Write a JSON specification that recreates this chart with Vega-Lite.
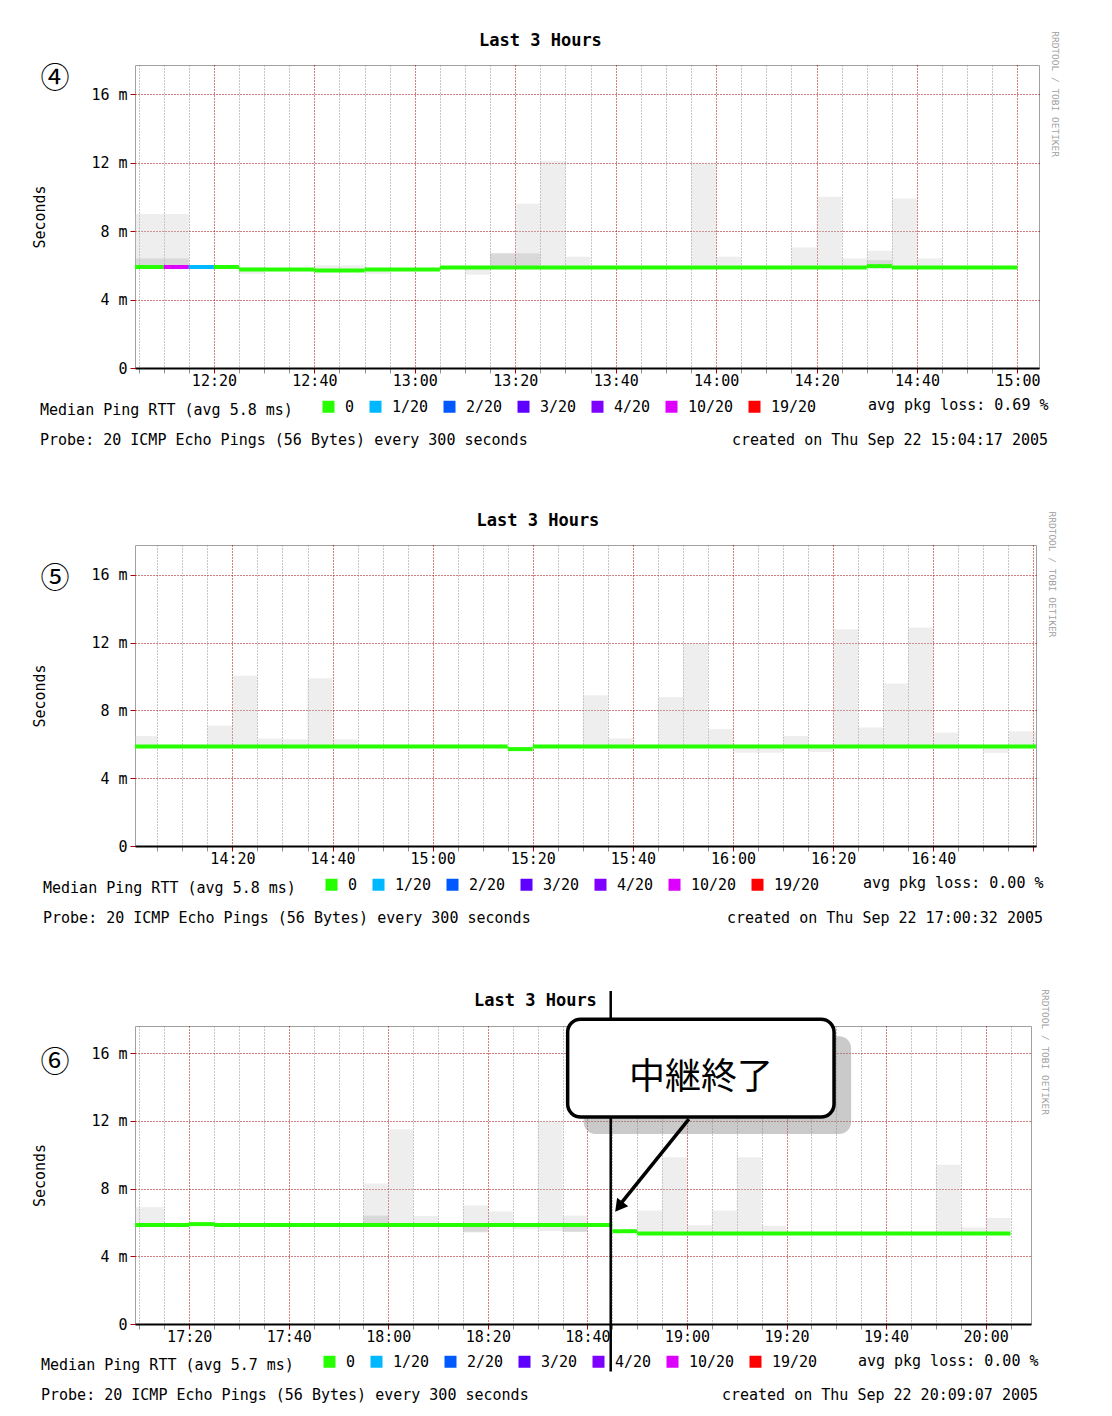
{
  "$schema": "https://vega.github.io/schema/vega-lite/v6.json",
  "padding": {"left": 32, "top": 31, "right": 0, "bottom": 0},
  "background": "white",
  "config": {
    "view": {"stroke": "#a0a0a0"},
    "font": "DejaVu Sans Mono",
    "axis": {"labelFont": "DejaVu Sans Mono", "titleFont": "DejaVu Sans Mono", "labelOverlap": false},
    "legend": {"labelFont": "DejaVu Sans Mono", "titleFont": "DejaVu Sans Mono"},
    "title": {"font": "DejaVu Sans Mono"}
  },
  "datasets": {
    "smoke1": [
      {"t0": "2005-09-22T12:04:17", "t1": "2005-09-22T12:10:00", "lo": 5.8, "hi": 9.0},
      {"t0": "2005-09-22T12:10:00", "t1": "2005-09-22T12:15:00", "lo": 5.8, "hi": 9.0},
      {"t0": "2005-09-22T12:25:00", "t1": "2005-09-22T12:30:00", "lo": 5.5, "hi": 5.9},
      {"t0": "2005-09-22T12:40:00", "t1": "2005-09-22T12:50:00", "lo": 5.65, "hi": 6.0},
      {"t0": "2005-09-22T12:50:00", "t1": "2005-09-22T12:55:00", "lo": 5.5, "hi": 5.8},
      {"t0": "2005-09-22T13:10:00", "t1": "2005-09-22T13:15:00", "lo": 5.45, "hi": 5.85},
      {"t0": "2005-09-22T13:15:00", "t1": "2005-09-22T13:20:00", "lo": 5.8, "hi": 6.7},
      {"t0": "2005-09-22T13:20:00", "t1": "2005-09-22T13:25:00", "lo": 5.8, "hi": 9.6},
      {"t0": "2005-09-22T13:25:00", "t1": "2005-09-22T13:30:00", "lo": 5.75, "hi": 12.1},
      {"t0": "2005-09-22T13:30:00", "t1": "2005-09-22T13:35:00", "lo": 5.8, "hi": 6.5},
      {"t0": "2005-09-22T13:55:00", "t1": "2005-09-22T14:00:00", "lo": 5.8, "hi": 12.0},
      {"t0": "2005-09-22T14:00:00", "t1": "2005-09-22T14:05:00", "lo": 5.8, "hi": 6.5},
      {"t0": "2005-09-22T14:15:00", "t1": "2005-09-22T14:20:00", "lo": 5.8, "hi": 7.05},
      {"t0": "2005-09-22T14:20:00", "t1": "2005-09-22T14:25:00", "lo": 5.8, "hi": 10.0},
      {"t0": "2005-09-22T14:25:00", "t1": "2005-09-22T14:30:00", "lo": 5.8, "hi": 6.4},
      {"t0": "2005-09-22T14:30:00", "t1": "2005-09-22T14:35:00", "lo": 5.8, "hi": 6.85},
      {"t0": "2005-09-22T14:35:00", "t1": "2005-09-22T14:40:00", "lo": 5.8, "hi": 9.9},
      {"t0": "2005-09-22T14:40:00", "t1": "2005-09-22T14:45:00", "lo": 5.8, "hi": 6.4}
    ],
    "core1": [
      {"t0": "2005-09-22T12:04:17", "t1": "2005-09-22T12:15:00", "lo": 5.85, "hi": 6.4},
      {"t0": "2005-09-22T13:15:00", "t1": "2005-09-22T13:25:00", "lo": 5.85, "hi": 6.7},
      {"t0": "2005-09-22T14:30:00", "t1": "2005-09-22T14:35:00", "lo": 5.85, "hi": 6.3}
    ],
    "med1": [
      {"t0": "2005-09-22T12:04:17", "t1": "2005-09-22T12:10:00", "ms": 5.9, "loss": "0"},
      {"t0": "2005-09-22T12:10:00", "t1": "2005-09-22T12:15:00", "ms": 5.9, "loss": "10/20"},
      {"t0": "2005-09-22T12:15:00", "t1": "2005-09-22T12:20:00", "ms": 5.9, "loss": "1/20"},
      {"t0": "2005-09-22T12:20:00", "t1": "2005-09-22T12:25:00", "ms": 5.9, "loss": "0"},
      {"t0": "2005-09-22T12:25:00", "t1": "2005-09-22T12:40:00", "ms": 5.75, "loss": "0"},
      {"t0": "2005-09-22T12:40:00", "t1": "2005-09-22T12:50:00", "ms": 5.7, "loss": "0"},
      {"t0": "2005-09-22T12:50:00", "t1": "2005-09-22T13:05:00", "ms": 5.75, "loss": "0"},
      {"t0": "2005-09-22T13:05:00", "t1": "2005-09-22T14:30:00", "ms": 5.87, "loss": "0"},
      {"t0": "2005-09-22T14:30:00", "t1": "2005-09-22T14:35:00", "ms": 5.95, "loss": "0"},
      {"t0": "2005-09-22T14:35:00", "t1": "2005-09-22T15:00:00", "ms": 5.87, "loss": "0"}
    ],
    "smoke2": [
      {"t0": "2005-09-22T14:00:32", "t1": "2005-09-22T14:05:00", "lo": 5.85, "hi": 6.5},
      {"t0": "2005-09-22T14:15:00", "t1": "2005-09-22T14:20:00", "lo": 5.85, "hi": 7.1},
      {"t0": "2005-09-22T14:20:00", "t1": "2005-09-22T14:25:00", "lo": 5.85, "hi": 10.05},
      {"t0": "2005-09-22T14:25:00", "t1": "2005-09-22T14:30:00", "lo": 5.85, "hi": 6.34},
      {"t0": "2005-09-22T14:30:00", "t1": "2005-09-22T14:35:00", "lo": 5.75, "hi": 6.3},
      {"t0": "2005-09-22T14:35:00", "t1": "2005-09-22T14:40:00", "lo": 5.85, "hi": 9.9},
      {"t0": "2005-09-22T14:40:00", "t1": "2005-09-22T14:45:00", "lo": 5.85, "hi": 6.3},
      {"t0": "2005-09-22T15:30:00", "t1": "2005-09-22T15:35:00", "lo": 5.75, "hi": 8.9},
      {"t0": "2005-09-22T15:35:00", "t1": "2005-09-22T15:40:00", "lo": 5.85, "hi": 6.35},
      {"t0": "2005-09-22T15:45:00", "t1": "2005-09-22T15:50:00", "lo": 5.8, "hi": 8.8},
      {"t0": "2005-09-22T15:50:00", "t1": "2005-09-22T15:55:00", "lo": 5.8, "hi": 11.95},
      {"t0": "2005-09-22T15:55:00", "t1": "2005-09-22T16:00:00", "lo": 5.85, "hi": 6.9},
      {"t0": "2005-09-22T16:00:00", "t1": "2005-09-22T16:10:00", "lo": 5.5, "hi": 5.9},
      {"t0": "2005-09-22T16:10:00", "t1": "2005-09-22T16:15:00", "lo": 5.85, "hi": 6.5},
      {"t0": "2005-09-22T16:15:00", "t1": "2005-09-22T16:20:00", "lo": 5.55, "hi": 5.9},
      {"t0": "2005-09-22T16:20:00", "t1": "2005-09-22T16:25:00", "lo": 5.85, "hi": 12.8},
      {"t0": "2005-09-22T16:25:00", "t1": "2005-09-22T16:30:00", "lo": 5.85, "hi": 7.0},
      {"t0": "2005-09-22T16:30:00", "t1": "2005-09-22T16:35:00", "lo": 5.8, "hi": 9.6},
      {"t0": "2005-09-22T16:35:00", "t1": "2005-09-22T16:40:00", "lo": 5.8, "hi": 12.9},
      {"t0": "2005-09-22T16:40:00", "t1": "2005-09-22T16:45:00", "lo": 5.8, "hi": 6.7},
      {"t0": "2005-09-22T16:50:00", "t1": "2005-09-22T16:55:00", "lo": 5.5, "hi": 5.9},
      {"t0": "2005-09-22T16:55:00", "t1": "2005-09-22T17:00:32", "lo": 5.85, "hi": 6.77}
    ],
    "med2": [
      {"t0": "2005-09-22T14:00:32", "t1": "2005-09-22T15:15:00", "ms": 5.87, "loss": "0"},
      {"t0": "2005-09-22T15:15:00", "t1": "2005-09-22T15:20:00", "ms": 5.72, "loss": "0"},
      {"t0": "2005-09-22T15:20:00", "t1": "2005-09-22T17:00:32", "ms": 5.87, "loss": "0"}
    ],
    "smoke3": [
      {"t0": "2005-09-22T17:09:07", "t1": "2005-09-22T17:15:00", "lo": 5.85, "hi": 6.9},
      {"t0": "2005-09-22T17:55:00", "t1": "2005-09-22T18:00:00", "lo": 5.8, "hi": 8.3},
      {"t0": "2005-09-22T18:00:00", "t1": "2005-09-22T18:05:00", "lo": 5.75, "hi": 11.5},
      {"t0": "2005-09-22T18:05:00", "t1": "2005-09-22T18:10:00", "lo": 5.85, "hi": 6.38},
      {"t0": "2005-09-22T18:15:00", "t1": "2005-09-22T18:20:00", "lo": 5.4, "hi": 7.0},
      {"t0": "2005-09-22T18:20:00", "t1": "2005-09-22T18:25:00", "lo": 5.8, "hi": 6.65},
      {"t0": "2005-09-22T18:25:00", "t1": "2005-09-22T18:30:00", "lo": 5.6, "hi": 5.9},
      {"t0": "2005-09-22T18:30:00", "t1": "2005-09-22T18:35:00", "lo": 5.5, "hi": 12.0},
      {"t0": "2005-09-22T18:35:00", "t1": "2005-09-22T18:40:00", "lo": 5.44, "hi": 6.4},
      {"t0": "2005-09-22T18:50:00", "t1": "2005-09-22T18:55:00", "lo": 5.3, "hi": 6.7},
      {"t0": "2005-09-22T18:55:00", "t1": "2005-09-22T19:00:00", "lo": 5.3, "hi": 9.85},
      {"t0": "2005-09-22T19:00:00", "t1": "2005-09-22T19:05:00", "lo": 5.3, "hi": 5.83},
      {"t0": "2005-09-22T19:05:00", "t1": "2005-09-22T19:10:00", "lo": 5.3, "hi": 6.7},
      {"t0": "2005-09-22T19:10:00", "t1": "2005-09-22T19:15:00", "lo": 5.3, "hi": 9.85},
      {"t0": "2005-09-22T19:15:00", "t1": "2005-09-22T19:20:00", "lo": 5.3, "hi": 5.8},
      {"t0": "2005-09-22T19:50:00", "t1": "2005-09-22T19:55:00", "lo": 5.3, "hi": 9.4},
      {"t0": "2005-09-22T19:55:00", "t1": "2005-09-22T20:00:00", "lo": 5.3, "hi": 5.7},
      {"t0": "2005-09-22T20:00:00", "t1": "2005-09-22T20:05:00", "lo": 5.3, "hi": 6.26}
    ],
    "core3": [
      {"t0": "2005-09-22T17:55:00", "t1": "2005-09-22T18:00:00", "lo": 5.85, "hi": 6.4},
      {"t0": "2005-09-22T18:15:00", "t1": "2005-09-22T18:20:00", "lo": 5.45, "hi": 5.85},
      {"t0": "2005-09-22T18:35:00", "t1": "2005-09-22T18:40:00", "lo": 5.45, "hi": 5.85}
    ],
    "med3": [
      {"t0": "2005-09-22T17:09:07", "t1": "2005-09-22T17:20:00", "ms": 5.85, "loss": "0"},
      {"t0": "2005-09-22T17:20:00", "t1": "2005-09-22T17:25:00", "ms": 5.9, "loss": "0"},
      {"t0": "2005-09-22T17:25:00", "t1": "2005-09-22T18:45:00", "ms": 5.85, "loss": "0"},
      {"t0": "2005-09-22T18:45:00", "t1": "2005-09-22T18:50:00", "ms": 5.48, "loss": "0"},
      {"t0": "2005-09-22T18:50:00", "t1": "2005-09-22T20:05:00", "ms": 5.34, "loss": "0"}
    ]
  },
  "spacing": 63,
  "resolve": {"scale": {"x": "independent", "y": "independent"}, "legend": {"color": "independent"}},
  "vconcat": [
    {
      "spacing": 10,
      "title": {"text": "RRDTOOL / TOBI OETIKER", "orient": "right", "anchor": "start", "frame": "bounds", "fontSize": 9.5, "fontWeight": "normal", "color": "#a0a0a0", "offset": 2},
      "resolve": {"scale": {"x": "independent", "y": "independent"}, "legend": {"color": "independent"}},
      "vconcat": [
        {
          "width": 904, "height": 303,
          "title": {"text": "Last 3 Hours", "fontSize": 17, "fontWeight": "bold", "color": "#000", "anchor": "middle", "frame": "bounds", "offset": 15},
          "layer": [
            {
              "data": {"name": "smoke1"},
              "mark": {"type": "rect", "color": "#c8c8c8", "opacity": 0.3},
              "encoding": {
                "x": {"field": "t0", "type": "temporal",
                  "scale": {"domain": [{"year": 2005, "month": 9, "date": 22, "hours": 12, "minutes": 4, "seconds": 17}, {"year": 2005, "month": 9, "date": 22, "hours": 15, "minutes": 4, "seconds": 17}]},
                  "axis": {"orient": "bottom", "tickCount": 36, "labelExpr": "minutes(datum.value) % 20 == 0 ? timeFormat(datum.value, '%H:%M') : ''", "labelFlush": false, "labelOverlap": false, "labelPadding": 0, "labelFontSize": 15, "labelColor": "#000", "tickSize": 5,
                    "tickColor": {"condition": {"test": "minutes(datum.value) % 20 == 0", "value": "#b00000"}, "value": "#909090"},
                    "domainColor": "#000", "domainWidth": 2, "grid": true,
                    "gridColor": {"condition": {"test": "minutes(datum.value) % 20 == 0", "value": "#a00000"}, "value": "#8c8c8c"},
                    "gridDash": [1, 2], "title": "avg pkg loss: 0.69 %", "titleFontSize": 15, "titleFontWeight": "normal", "titleColor": "#000", "titleAnchor": "end", "titleAlign": "right", "titleX": 913, "titlePadding": 9}},
                "x2": {"field": "t1"},
                "y": {"field": "lo", "type": "quantitative", "scale": {"domain": [0, 17.7], "nice": false},
                  "axis": {"orient": "left", "values": [0, 2, 4, 6, 8, 10, 12, 14, 16],
                    "labelExpr": "datum.value == 0 ? '0' : datum.value + ' m'",
                    "labelFontSize": 15, "labelPadding": 3, "labelColor": "#000", "labelOverlap": false, "labelFlush": false, "tickSize": 5, "tickColor": "#b00000",
                    "domain": false, "grid": true, "gridColor": "#a00000", "gridDash": [1, 2],
                    "title": "Seconds", "titleFontSize": 15, "titleFontWeight": "normal", "titleColor": "#000", "titlePadding": 43}},
                "y2": {"field": "hi"}
              }
            },
            {
              "data": {"name": "core1"},
              "mark": {"type": "rect", "color": "#a8a8a8", "opacity": 0.3},
              "encoding": {"x": {"field": "t0", "type": "temporal"}, "x2": {"field": "t1"}, "y": {"field": "lo", "type": "quantitative"}, "y2": {"field": "hi"}}
            },
            {
              "data": {"name": "med1"},
              "mark": {"type": "rule", "strokeWidth": 4},
              "encoding": {
                "x": {"field": "t0", "type": "temporal"},
                "x2": {"field": "t1"},
                "y": {"field": "ms", "type": "quantitative"},
                "color": {"field": "loss", "type": "nominal",
                  "scale": {"domain": ["0", "1/20", "2/20", "3/20", "4/20", "10/20", "19/20"], "range": ["#26ff00", "#00b8ff", "#0059ff", "#5e00ff", "#7e00ff", "#dd00ff", "#ff0000"]},
                  "legend": {"orient": "none", "legendX": -95, "legendY": 334, "direction": "horizontal", "title": "Median Ping RTT (avg 5.8 ms)", "titleOrient": "left", "titleLimit": 500, "titleFontSize": 15, "titleFontWeight": "normal", "titleColor": "#000", "titlePadding": 28, "labelFontSize": 15, "labelColor": "#000", "labelOffset": 9, "columnPadding": 5, "symbolType": "square", "symbolSize": 36, "symbolStrokeWidth": 6, "symbolOpacity": 1}}
              }
            },
            {
              "data": {"values": [{"label": "④"}]},
              "mark": {"type": "text", "font": "Noto Sans CJK JP", "fontSize": 29, "align": "center", "baseline": "middle", "dx": -80, "color": "#000"},
              "encoding": {
                "text": {"field": "label"},
                "x": {"datum": {"year": 2005, "month": 9, "date": 22, "hours": 12, "minutes": 4, "seconds": 17}, "type": "temporal"},
                "y": {"datum": 16.9, "type": "quantitative"}
              }
            }
          ]
        },
        {
          "width": 913, "height": 14,
          "view": {"stroke": null},
          "layer": [
            {
              "data": {"values": [{"side": "left", "text": "Probe: 20 ICMP Echo Pings (56 Bytes) every 300 seconds"}]},
              "mark": {"type": "text", "align": "left", "baseline": "middle", "dx": -95, "fontSize": 15, "color": "#000"},
              "encoding": {"x": {"field": "side", "type": "nominal", "scale": {"type": "point", "domain": ["left", "right"], "padding": 0}, "axis": null}, "text": {"field": "text"}}
            },
            {
              "data": {"values": [{"side": "right", "text": "created on Thu Sep 22 15:04:17 2005"}]},
              "mark": {"type": "text", "align": "right", "baseline": "middle", "fontSize": 15, "color": "#000"},
              "encoding": {"x": {"field": "side", "type": "nominal", "axis": null}, "text": {"field": "text"}}
            }
          ]
        }
      ]
    },
    {
      "spacing": 10,
      "title": {"text": "RRDTOOL / TOBI OETIKER", "orient": "right", "anchor": "start", "frame": "bounds", "fontSize": 9.5, "fontWeight": "normal", "color": "#a0a0a0", "offset": 4},
      "resolve": {"scale": {"x": "independent", "y": "independent"}, "legend": {"color": "independent"}},
      "vconcat": [
        {
          "width": 901, "height": 301,
          "title": {"text": "Last 3 Hours", "fontSize": 17, "fontWeight": "bold", "color": "#000", "anchor": "middle", "frame": "bounds", "offset": 15},
          "layer": [
            {
              "data": {"name": "smoke2"},
              "mark": {"type": "rect", "color": "#c8c8c8", "opacity": 0.3},
              "encoding": {
                "x": {"field": "t0", "type": "temporal",
                  "scale": {"domain": [{"year": 2005, "month": 9, "date": 22, "hours": 14, "minutes": 0, "seconds": 32}, {"year": 2005, "month": 9, "date": 22, "hours": 17, "minutes": 0, "seconds": 32}]},
                  "axis": {"orient": "bottom", "tickCount": 36, "labelExpr": "minutes(datum.value) % 20 == 0 && hours(datum.value) < 17 ? timeFormat(datum.value, '%H:%M') : ''", "labelFlush": false, "labelOverlap": false, "labelPadding": 0, "labelFontSize": 15, "labelColor": "#000", "tickSize": 5,
                    "tickColor": {"condition": {"test": "minutes(datum.value) % 20 == 0", "value": "#b00000"}, "value": "#909090"},
                    "domainColor": "#000", "domainWidth": 2, "grid": true,
                    "gridColor": {"condition": {"test": "minutes(datum.value) % 20 == 0", "value": "#a00000"}, "value": "#8c8c8c"},
                    "gridDash": [1, 2], "title": "avg pkg loss: 0.00 %", "titleFontSize": 15, "titleFontWeight": "normal", "titleColor": "#000", "titleAnchor": "end", "titleAlign": "right", "titleX": 908, "titlePadding": 9}},
                "x2": {"field": "t1"},
                "y": {"field": "lo", "type": "quantitative", "scale": {"domain": [0, 17.77], "nice": false},
                  "axis": {"orient": "left", "values": [0, 2, 4, 6, 8, 10, 12, 14, 16],
                    "labelExpr": "datum.value == 0 ? '0' : datum.value + ' m'",
                    "labelFontSize": 15, "labelPadding": 3, "labelColor": "#000", "labelOverlap": false, "labelFlush": false, "tickSize": 5, "tickColor": "#b00000",
                    "domain": false, "grid": true, "gridColor": "#a00000", "gridDash": [1, 2],
                    "title": "Seconds", "titleFontSize": 15, "titleFontWeight": "normal", "titleColor": "#000", "titlePadding": 43}},
                "y2": {"field": "hi"}
              }
            },
            {
              "data": {"name": "med2"},
              "mark": {"type": "rule", "strokeWidth": 4},
              "encoding": {
                "x": {"field": "t0", "type": "temporal"},
                "x2": {"field": "t1"},
                "y": {"field": "ms", "type": "quantitative"},
                "color": {"field": "loss", "type": "nominal",
                  "scale": {"domain": ["0", "1/20", "2/20", "3/20", "4/20", "10/20", "19/20"], "range": ["#26ff00", "#00b8ff", "#0059ff", "#5e00ff", "#7e00ff", "#dd00ff", "#ff0000"]},
                  "legend": {"orient": "none", "legendX": -92, "legendY": 332, "direction": "horizontal", "title": "Median Ping RTT (avg 5.8 ms)", "titleOrient": "left", "titleLimit": 500, "titleFontSize": 15, "titleFontWeight": "normal", "titleColor": "#000", "titlePadding": 28, "labelFontSize": 15, "labelColor": "#000", "labelOffset": 9, "columnPadding": 5, "symbolType": "square", "symbolSize": 36, "symbolStrokeWidth": 6, "symbolOpacity": 1}}
              }
            },
            {
              "data": {"values": [{"label": "⑤"}]},
              "mark": {"type": "text", "font": "Noto Sans CJK JP", "fontSize": 29, "align": "center", "baseline": "middle", "dx": -80, "color": "#000"},
              "encoding": {
                "text": {"field": "label"},
                "x": {"datum": {"year": 2005, "month": 9, "date": 22, "hours": 14, "minutes": 0, "seconds": 32}, "type": "temporal"},
                "y": {"datum": 15.75, "type": "quantitative"}
              }
            }
          ]
        },
        {
          "width": 908, "height": 14,
          "view": {"stroke": null},
          "layer": [
            {
              "data": {"values": [{"side": "left", "text": "Probe: 20 ICMP Echo Pings (56 Bytes) every 300 seconds"}]},
              "mark": {"type": "text", "align": "left", "baseline": "middle", "dx": -92, "fontSize": 15, "color": "#000"},
              "encoding": {"x": {"field": "side", "type": "nominal", "scale": {"type": "point", "domain": ["left", "right"], "padding": 0}, "axis": null}, "text": {"field": "text"}}
            },
            {
              "data": {"values": [{"side": "right", "text": "created on Thu Sep 22 17:00:32 2005"}]},
              "mark": {"type": "text", "align": "right", "baseline": "middle", "fontSize": 15, "color": "#000"},
              "encoding": {"x": {"field": "side", "type": "nominal", "axis": null}, "text": {"field": "text"}}
            }
          ]
        }
      ]
    },
    {
      "spacing": 10,
      "title": {"text": "RRDTOOL / TOBI OETIKER", "orient": "right", "anchor": "start", "frame": "bounds", "fontSize": 9.5, "fontWeight": "normal", "color": "#a0a0a0", "offset": 2},
      "resolve": {"scale": {"x": "independent", "y": "independent"}, "legend": {"color": "independent"}},
      "vconcat": [
        {
          "width": 896, "height": 298,
          "title": {"text": "Last 3 Hours", "fontSize": 17, "fontWeight": "bold", "color": "#000", "anchor": "middle", "frame": "bounds", "offset": -20},
          "layer": [
            {
              "data": {"name": "smoke3"},
              "mark": {"type": "rect", "color": "#c8c8c8", "opacity": 0.3},
              "encoding": {
                "x": {"field": "t0", "type": "temporal",
                  "scale": {"domain": [{"year": 2005, "month": 9, "date": 22, "hours": 17, "minutes": 9, "seconds": 7}, {"year": 2005, "month": 9, "date": 22, "hours": 20, "minutes": 9, "seconds": 7}]},
                  "axis": {"orient": "bottom", "tickCount": 36, "labelExpr": "minutes(datum.value) % 20 == 0 ? timeFormat(datum.value, '%H:%M') : ''", "labelFlush": false, "labelOverlap": false, "labelPadding": 0, "labelFontSize": 15, "labelColor": "#000", "tickSize": 5,
                    "tickColor": {"condition": {"test": "minutes(datum.value) % 20 == 0", "value": "#b00000"}, "value": "#909090"},
                    "domainColor": "#000", "domainWidth": 2, "grid": true,
                    "gridColor": {"condition": {"test": "minutes(datum.value) % 20 == 0", "value": "#a00000"}, "value": "#8c8c8c"},
                    "gridDash": [1, 2], "title": "avg pkg loss: 0.00 %", "titleFontSize": 15, "titleFontWeight": "normal", "titleColor": "#000", "titleAnchor": "end", "titleAlign": "right", "titleX": 903, "titlePadding": 9}},
                "x2": {"field": "t1"},
                "y": {"field": "lo", "type": "quantitative", "scale": {"domain": [0, 17.6], "nice": false},
                  "axis": {"orient": "left", "values": [0, 2, 4, 6, 8, 10, 12, 14, 16],
                    "labelExpr": "datum.value == 0 ? '0' : datum.value + ' m'",
                    "labelFontSize": 15, "labelPadding": 3, "labelColor": "#000", "labelOverlap": false, "labelFlush": false, "tickSize": 5, "tickColor": "#b00000",
                    "domain": false, "grid": true, "gridColor": "#a00000", "gridDash": [1, 2],
                    "title": "Seconds", "titleFontSize": 15, "titleFontWeight": "normal", "titleColor": "#000", "titlePadding": 43}},
                "y2": {"field": "hi"}
              }
            },
            {
              "data": {"name": "core3"},
              "mark": {"type": "rect", "color": "#a8a8a8", "opacity": 0.3},
              "encoding": {"x": {"field": "t0", "type": "temporal"}, "x2": {"field": "t1"}, "y": {"field": "lo", "type": "quantitative"}, "y2": {"field": "hi"}}
            },
            {
              "data": {"name": "med3"},
              "mark": {"type": "rule", "strokeWidth": 4},
              "encoding": {
                "x": {"field": "t0", "type": "temporal"},
                "x2": {"field": "t1"},
                "y": {"field": "ms", "type": "quantitative"},
                "color": {"field": "loss", "type": "nominal",
                  "scale": {"domain": ["0", "1/20", "2/20", "3/20", "4/20", "10/20", "19/20"], "range": ["#26ff00", "#00b8ff", "#0059ff", "#5e00ff", "#7e00ff", "#dd00ff", "#ff0000"]},
                  "legend": {"orient": "none", "legendX": -94, "legendY": 328, "direction": "horizontal", "title": "Median Ping RTT (avg 5.7 ms)", "titleOrient": "left", "titleLimit": 500, "titleFontSize": 15, "titleFontWeight": "normal", "titleColor": "#000", "titlePadding": 28, "labelFontSize": 15, "labelColor": "#000", "labelOffset": 9, "columnPadding": 5, "symbolType": "square", "symbolSize": 36, "symbolStrokeWidth": 6, "symbolOpacity": 1}}
              }
            },
            {
              "data": {"values": [{"label": "⑥"}]},
              "mark": {"type": "text", "font": "Noto Sans CJK JP", "fontSize": 29, "align": "center", "baseline": "middle", "dx": -80, "color": "#000"},
              "encoding": {
                "text": {"field": "label"},
                "x": {"datum": {"year": 2005, "month": 9, "date": 22, "hours": 17, "minutes": 9, "seconds": 7}, "type": "temporal"},
                "y": {"datum": 15.4, "type": "quantitative"}
              }
            },
            {
              "data": {"values": [{"note": "shadow"}]},
              "mark": {"type": "rect", "color": "#8a8a8a", "opacity": 0.45, "cornerRadius": 12},
              "encoding": {
                "x": {"datum": {"year": 2005, "month": 9, "date": 22, "hours": 18, "minutes": 39, "seconds": 15}, "type": "temporal"},
                "x2": {"datum": {"year": 2005, "month": 9, "date": 22, "hours": 19, "minutes": 32, "seconds": 59}},
                "y": {"datum": 17.0, "type": "quantitative"},
                "y2": {"datum": 11.22}
              }
            },
            {
              "data": {"values": [{"note": "end of relay"}]},
              "mark": {"type": "rule", "color": "#000", "strokeWidth": 2.5},
              "encoding": {
                "x": {"datum": {"year": 2005, "month": 9, "date": 22, "hours": 18, "minutes": 44, "seconds": 41}, "type": "temporal"},
                "y": {"datum": 19.67, "type": "quantitative"},
                "y2": {"datum": -2.8}
              }
            },
            {
              "data": {"values": [{"note": "box"}]},
              "mark": {"type": "rect", "fill": "#ffffff", "stroke": "#000", "strokeWidth": 3.5, "cornerRadius": 13},
              "encoding": {
                "x": {"datum": {"year": 2005, "month": 9, "date": 22, "hours": 18, "minutes": 36, "seconds": 2}, "type": "temporal"},
                "x2": {"datum": {"year": 2005, "month": 9, "date": 22, "hours": 19, "minutes": 29, "seconds": 33}},
                "y": {"datum": 18.0, "type": "quantitative"},
                "y2": {"datum": 12.22}
              }
            },
            {
              "data": {"values": [{"label": "中継終了"}]},
              "mark": {"type": "text", "font": "Noto Sans CJK JP", "fontSize": 36, "align": "center", "baseline": "middle", "color": "#000"},
              "encoding": {
                "text": {"field": "label"},
                "x": {"datum": {"year": 2005, "month": 9, "date": 22, "hours": 19, "minutes": 2, "seconds": 48}, "type": "temporal"},
                "y": {"datum": 14.52, "type": "quantitative"}
              }
            },
            {
              "data": {"values": [{"note": "arrow"}]},
              "mark": {"type": "rule", "color": "#000", "strokeWidth": 3.5},
              "encoding": {
                "x": {"datum": {"year": 2005, "month": 9, "date": 22, "hours": 19, "minutes": 0, "seconds": 23}, "type": "temporal"},
                "x2": {"datum": {"year": 2005, "month": 9, "date": 22, "hours": 18, "minutes": 46, "seconds": 40}},
                "y": {"datum": 12.1, "type": "quantitative"},
                "y2": {"datum": 7.1}
              }
            },
            {
              "data": {"values": [{"note": "arrowhead"}]},
              "mark": {"type": "point", "shape": "triangle-up", "filled": true, "color": "#000", "opacity": 1, "size": 200, "angle": 218},
              "encoding": {
                "x": {"datum": {"year": 2005, "month": 9, "date": 22, "hours": 18, "minutes": 46, "seconds": 20}, "type": "temporal"},
                "y": {"datum": 6.92, "type": "quantitative"}
              }
            }
          ]
        },
        {
          "width": 903, "height": 14,
          "view": {"stroke": null},
          "layer": [
            {
              "data": {"values": [{"side": "left", "text": "Probe: 20 ICMP Echo Pings (56 Bytes) every 300 seconds"}]},
              "mark": {"type": "text", "align": "left", "baseline": "middle", "dx": -94, "fontSize": 15, "color": "#000"},
              "encoding": {"x": {"field": "side", "type": "nominal", "scale": {"type": "point", "domain": ["left", "right"], "padding": 0}, "axis": null}, "text": {"field": "text"}}
            },
            {
              "data": {"values": [{"side": "right", "text": "created on Thu Sep 22 20:09:07 2005"}]},
              "mark": {"type": "text", "align": "right", "baseline": "middle", "fontSize": 15, "color": "#000"},
              "encoding": {"x": {"field": "side", "type": "nominal", "axis": null}, "text": {"field": "text"}}
            }
          ]
        }
      ]
    }
  ]
}
